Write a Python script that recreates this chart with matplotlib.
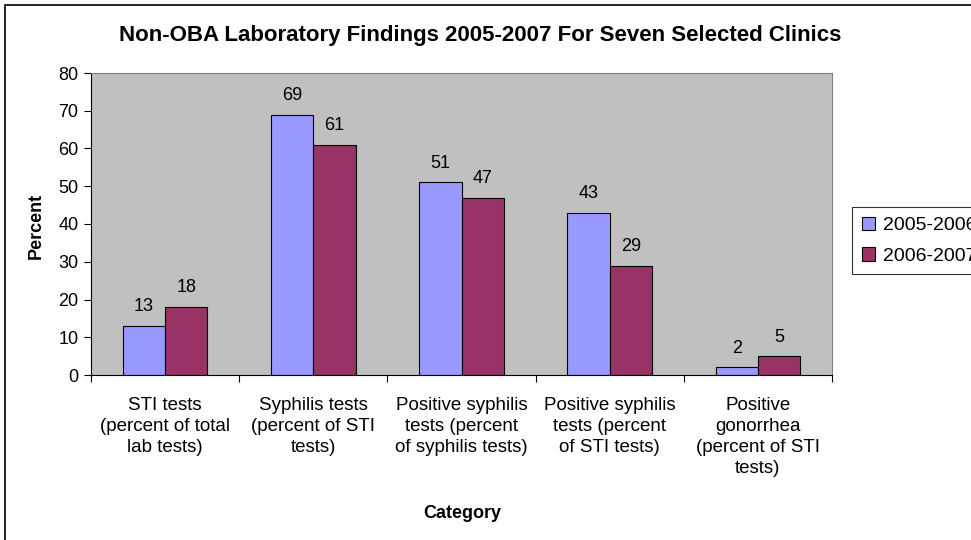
import numpy as np
import matplotlib
matplotlib.use("Agg")
import matplotlib.pyplot as plt
from matplotlib.patches import Rectangle

plt.rcParams['font.family'] = ['Liberation Sans', 'DejaVu Sans']

CATEGORIES = ["STI tests\n(percent of total\nlab tests)",
              "Syphilis tests\n(percent of STI\ntests)",
              "Positive syphilis\ntests (percent\nof syphilis tests)",
              "Positive syphilis\ntests (percent\nof STI tests)",
              "Positive\ngonorrhea\n(percent of STI\ntests)"]
SERIES = ["2005-2006", "2006-2007"]
VALS_0506 = [13, 69, 51, 43, 2]
VALS_0607 = [18, 61, 47, 29, 5]
COLORS = ['#9999FF', '#993366']

fig = plt.figure(figsize=(9.71, 5.4), dpi=100)
fig.patches.append(Rectangle((5/971, -0.1), 1.2, 1.1 - 5/540, transform=fig.transFigure,
                             fill=False, edgecolor='black', linewidth=1.2))

ax = fig.add_axes([91/971, 165/540, (832-91)/971, (375-73)/540])
ax.set_facecolor('#C0C0C0')

x = np.arange(len(CATEGORIES))
w = 0.286
b1 = ax.bar(x - w/2, VALS_0506, w, color=COLORS[0], edgecolor='black', linewidth=0.8, label=SERIES[0])
b2 = ax.bar(x + w/2, VALS_0607, w, color=COLORS[1], edgecolor='black', linewidth=0.8, label=SERIES[1])
for bars in (b1, b2):
    for r in bars:
        ax.text(r.get_x() + r.get_width()/2, r.get_height() + 2.8, str(int(r.get_height())),
                ha='center', va='bottom', fontsize=13)

ax.set_xlim(-0.5, len(CATEGORIES) - 0.5)
ax.set_ylim(0, 80)
ax.set_yticks(range(0, 81, 10))
ax.tick_params(axis='y', direction='out', length=5, labelsize=13, pad=4)

ax.set_xticks(np.arange(-0.5, len(CATEGORIES), 1.0))
ax.set_xticklabels([])
ax.tick_params(axis='x', which='major', direction='out', length=5)
ax.set_xticks(x, minor=True)
ax.set_xticklabels(CATEGORIES, minor=True, fontsize=13.5, linespacing=1.3)
ax.tick_params(axis='x', which='minor', length=0, pad=16)

for s in ['top', 'right']:
    ax.spines[s].set_color('#808080')
for s in ['left', 'bottom']:
    ax.spines[s].set_color('black')

fig.text(36/971, 1 - 226/540, "Percent", rotation=90, ha='center', va='center',
         fontsize=13, fontweight='bold')
fig.text(462/971, 1 - 513/540, "Category", ha='center', va='center',
         fontsize=13, fontweight='bold')
fig.text(480/971, 1 - 35/540, "Non-OBA Laboratory Findings 2005-2007 For Seven Selected Clinics",
         ha='center', va='center', fontsize=16, fontweight='bold')

leg = fig.legend(loc='upper left', bbox_to_anchor=(852/971, 1 - 207/540), borderaxespad=0,
                 frameon=True, fancybox=False, edgecolor='black', fontsize=14,
                 handlelength=0.7, handleheight=0.7, handletextpad=0.4, borderpad=0.5,
                 labelspacing=0.65)
leg.get_frame().set_linewidth(0.8)
for h in leg.legend_handles:
    h.set_edgecolor('black')

fig.savefig("out.png", dpi=100)
